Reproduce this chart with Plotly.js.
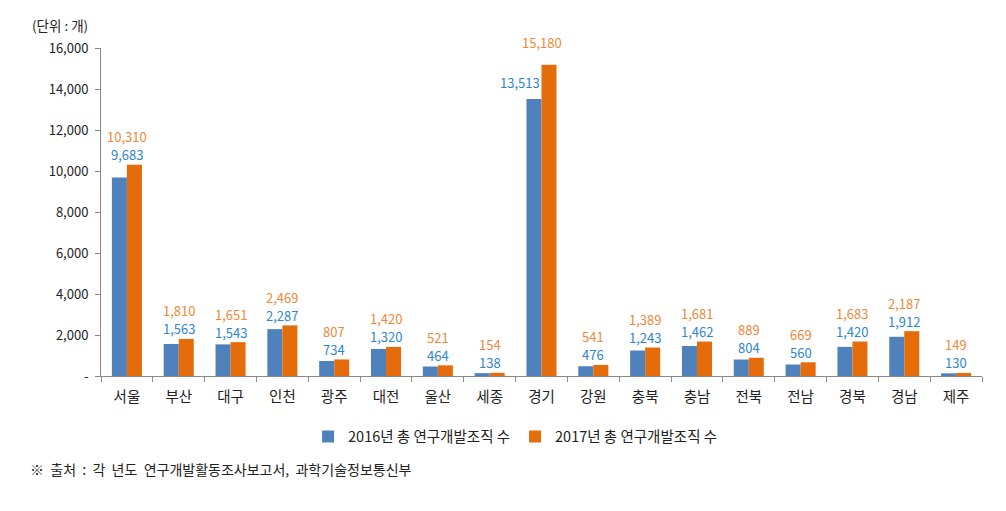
<!DOCTYPE html>
<html><head><meta charset="utf-8">
<script src="https://cdn.plot.ly/plotly-3.0.1.min.js"></script>
<style>body{margin:0;background:#fff}#c{width:1006px;height:511px}</style>
</head><body><div id="c"></div>
<script>
const categories = ["서울","부산","대구","인천","광주","대전","울산","세종","경기","강원","충북","충남","전북","전남","경북","경남","제주"];
const v2016 = [9683,1563,1543,2287,734,1320,464,138,13513,476,1243,1462,804,560,1420,1912,130];
const v2017 = [10310,1810,1651,2469,807,1420,521,154,15180,541,1389,1681,889,669,1683,2187,149];
const yTicks = [0,2000,4000,6000,8000,10000,12000,14000,16000];
const yTickText = ["-","2,000","4,000","6,000","8,000","10,000","12,000","14,000","16,000"];
const name16 = "2016년 총 연구개발조직 수";
const name17 = "2017년 총 연구개발조직 수";

const F = "'Noto Sans CJK KR', 'Noto Sans', sans-serif";
const fmt = v => v.toLocaleString('en-US');
const ann = [];
categories.forEach((c,i)=>{
  const a=v2016[i], b=v2017[i], m=Math.max(a,b);
  if (b-a > 1000) {
    ann.push({x:c, y:a, text:fmt(a), showarrow:false, xanchor:'right', yanchor:'bottom', xshift:0, yshift:5, font:{family:F,size:13,color:'#2E86CF'}});
    ann.push({x:c, y:b, text:fmt(b), showarrow:false, xshift:0, yshift:22, font:{family:F,size:13,color:'#F0883A'}});
  } else {
    ann.push({x:c, y:m, text:fmt(a), showarrow:false, yshift:10, font:{family:F,size:13,color:'#2E86CF'}});
    ann.push({x:c, y:m, text:fmt(b), showarrow:false, yshift:28, font:{family:F,size:13,color:'#F0883A'}});
  }
});
ann.push({xref:'paper', yref:'paper', x:-0.081, y:1.07, xanchor:'left', yanchor:'middle', text:'(단위 : 개)', showarrow:false, font:{family:F,size:13.5,color:'#222'}});
ann.push({xref:'paper', yref:'paper', x:-0.083, y:-0.285, xanchor:'left', yanchor:'middle', text:'※  출처  :  각  년도  연구개발활동조사보고서,  과학기술정보통신부', showarrow:false, font:{family:F,size:14,color:'#222'}});

const data = [
  {type:'bar', name:name16, x:categories, y:v2016, marker:{color:'#4F81BD'}, hoverinfo:'y'},
  {type:'bar', name:name17, x:categories, y:v2017, marker:{color:'#E46C0A'}, hoverinfo:'y'}
];
const layout = {
  width:1006, height:511,
  margin:{l:101, r:24, t:48, b:135},
  paper_bgcolor:'#fff', plot_bgcolor:'#fff',
  barmode:'group', bargap:0.42, bargroupgap:0,
  showlegend:true,
  legend:{orientation:'h', x:0.47, xanchor:'center', y:-0.185, yanchor:'middle', font:{family:F,size:14.5,color:'#222'}, itemwidth:30, traceorder:'normal', tracegroupgap:0},
  xaxis:{showline:true, linecolor:'#888', linewidth:1, ticks:'outside', tickson:'boundaries', ticklen:5, tickcolor:'#888', tickfont:{family:F,size:14.5,color:'#222'}, showgrid:false, zeroline:false, ticklabelstandoff:8},
  yaxis:{range:[0,16000], showline:true, linecolor:'#888', linewidth:1, ticks:'outside', ticklen:5, tickcolor:'#888', tickvals:yTicks, ticktext:yTickText, tickfont:{family:F,size:13,color:'#222'}, showgrid:false, zeroline:false, ticklabelstandoff:4},
  annotations:ann
};
Plotly.newPlot('c', data, layout, {displayModeBar:false, staticPlot:true});
</script></body></html>
